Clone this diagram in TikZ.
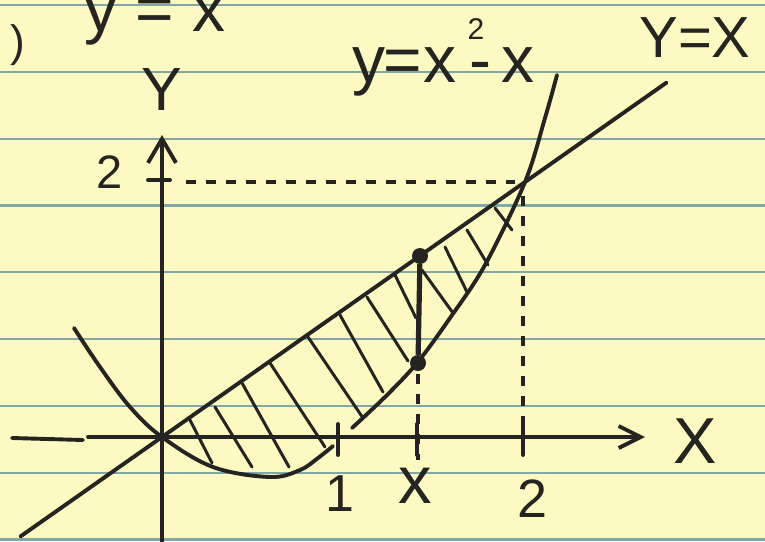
\documentclass[tikz,border=0pt]{standalone}
\usepackage{fontspec}
\setmainfont{Liberation Sans}
\usetikzlibrary{arrows.meta,calc}
\definecolor{paper}{RGB}{252,250,194}
\definecolor{rulecol}{RGB}{128,168,166}
\definecolor{ink}{RGB}{38,36,32}
\tikzset{
  inkline/.style={draw=ink, line width=3.9pt, line cap=round, line join=round},
  hatchline/.style={draw=ink, line width=3pt, line cap=round},
  dashline/.style={draw=ink, line width=3.8pt, dash pattern=on 10pt off 10pt},
  ruled/.style={draw=rulecol, line width=2.2pt},
  lbl/.style={text=ink, inner sep=0pt, outer sep=0pt},
  dotnode/.style={circle, fill=ink, inner sep=0pt, minimum size=16pt},
  barb/.style={-{Straight Barb[length=22pt,width=22pt]}},
}
\begin{document}
\begin{tikzpicture}[x=1pt,y=-1pt]
\fill[paper] (0,0) rectangle (765,541);
\useasboundingbox (0,0) rectangle (765,541);
\clip (0,0) rectangle (765,541);
% ruled lines of the paper
\foreach \k in {0,...,8} \draw[ruled] (0,{5+66.8*\k}) -- (765,{5+66.8*\k});

% key points
\coordinate (O) at (162,437);
\coordinate (P) at (525,182);
\coordinate (xl1) at (12,438);
\coordinate (xl2) at (83,440);
\coordinate (xs) at (88,437);
\coordinate (xe) at (645,437);
\coordinate (ys) at (162,545);
\coordinate (ye) at (162,135);

% axes
\draw[inkline] (xl1) -- (xl2);
\draw[inkline,barb] (xs) -- (xe);
\draw[inkline,-{Straight Barb[length=24pt,width=28pt]}] (ys) -- (ye);

% ticks
\draw[inkline] (338,424) -- (338,455);
\draw[inkline] (417,424) -- (417,455);
\draw[inkline] (523,424) -- (523,455);
\draw[inkline] (148,180) -- (170,180);

% dashed guides
\draw[dashline] (186,182) -- (515,182);
\draw[dashline] (523,196) -- (523,426);
\draw[dashline] (418,374) -- (418,460);

% y = x
\draw[inkline] ($(O)!-0.39!(P)$) -- ($(O)!1.39!(P)$);

% y = x^2 - x (hand-drawn, two strokes)
\draw[inkline] plot[smooth, tension=0.6] coordinates {(74,328) (100,367) (130,407) (162,437) (213,467) (270,477) (300,470) (318,458) (333,446)};
\draw[inkline] plot[smooth, tension=0.55] coordinates {(352,428) (385,397) (417,363) (450,318) (485,265) (525,182) (545,118) (557,75)};

% hatching
\foreach \ax/\ay/\bx/\by in {190/420/212/463, 215/407/252/467, 242/383/289/467,
  270/363/325/447, 308/337/363/418, 340/315/383/392, 367/297/408/361,
  395/275/416/318, 422/270/453/313, 445/247/467/292, 467/230/488/265,
  495/208/512/230}
  \draw[hatchline] (\ax,\ay) -- (\bx,\by);

% the strip at x
\node[dotnode] (top) at (420,256) {};
\node[dotnode] (bot) at (418,363) {};
\draw[draw=ink, line width=5.2pt] (top) -- (bot);

% texts
\node[lbl, font=\fontsize{44}{44}\selectfont] (par) at (18,45) {)};
\node[lbl, anchor=base west, font=\fontsize{66}{66}\selectfont] (tl) at (84,31) {y = x};
\node[lbl, anchor=base west, font=\fontsize{66}{66}\selectfont] (eq) at (352,82)
  {y\kern-2pt=\kern2pt x\kern13pt-\kern10pt x};
\node[lbl, font=\fontsize{30}{30}\selectfont] (sq) at (476,29) {2};
\node[lbl, font=\fontsize{58}{58}\selectfont] (yx) at (695,38) {Y=X};
\node[lbl, font=\fontsize{61}{61}\selectfont] (ylab) at (162,90) {Y};
\node[lbl, font=\fontsize{65}{65}\selectfont] (xlab) at (695,441) {X};
\node[lbl, font=\fontsize{47}{47}\selectfont] (twoy) at (110,172) {2};
\node[lbl, font=\fontsize{52}{52}\selectfont] (one) at (340,494) {1};
\node[lbl, font=\fontsize{67}{67}\selectfont] (xt) at (415,486) {x};
\node[lbl, font=\fontsize{54}{54}\selectfont] (twox) at (533,499) {2};
\end{tikzpicture}
\end{document}
